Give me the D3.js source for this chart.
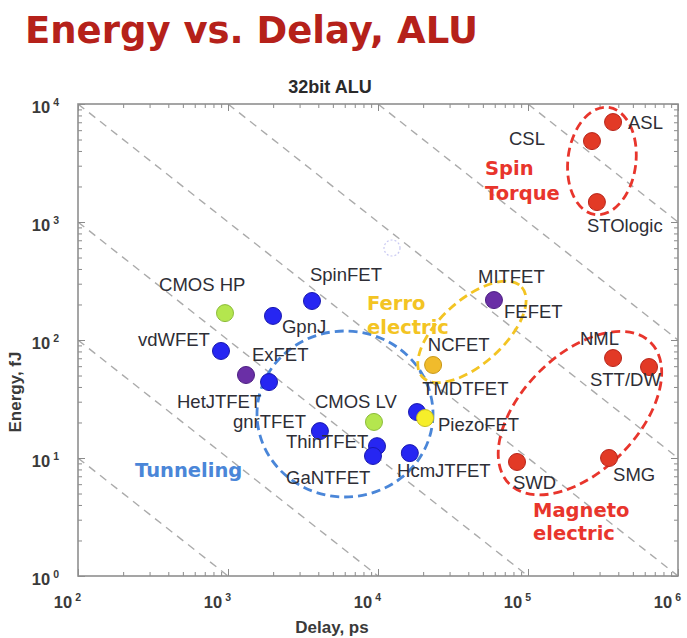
<!DOCTYPE html>
<html>
<head>
<meta charset="utf-8">
<script src="https://cdn.jsdelivr.net/npm/d3@7"></script>
<style>
  html, body { margin: 0; padding: 0; background: #fff; }
  svg { display: block; }
</style>
</head>
<body>
<svg id="chart" width="687" height="638"></svg>
<script>
// ---------------- DATA ----------------
const deviceNames  = ["ASL","CSL","STOlogic","ghost","MITFET/FEFET","NCFET","NML","STT/DW","SWD","SMG",
                      "TMDTFET","PiezoFET","HcmJTFET","CMOS LV","TFET-a","GaNTFET","ThinTFET","gnrTFET/ExFET",
                      "HetJTFET","vdWFET","CMOS HP","GpnJ","SpinFET"];
const deviceDelay  = [3.69e5,2.67e5,2.88e5,1.24e4,5.93e4,2.33e4,3.69e5,6.41e5,8.45e4,3.47e5,
                      1.82e4,2.06e4,1.63e4,9400,9850,9260,4100,1877,
                      1318,898,955,1995,3630];               // ps
const deviceEnergy = [7030,4850,1475,602,218,61.4,70.3,59,9.25,10,
                      24.5,21.8,11.0,20.2,12.6,10.4,16.9,44,
                      50.5,80.7,169,160,214];                  // fJ
const deviceKind   = ["spin","spin","spin","ghost","hetero","ferro","spin","spin","spin","spin",
                      "fet","piezo","fet","cmos","fet","fet","fet","fet",
                      "hetero","fet","cmos","fet","fet"];

// point labels (text anchored at start, located in data units)
const labelText   = ["ASL","CSL","STOlogic","MITFET","FEFET","NCFET","NML","STT/DW","TMDTFET","PiezoFET",
                     "HcmJTFET","SWD","SMG","CMOS LV","ThinTFET","GaNTFET","gnrTFET","HetJTFET","ExFET",
                     "vdWFET","CMOS HP","GpnJ","SpinFET"];
const labelDelay  = [4.64e5,7.47e4,2.47e5,4.64e4,6.92e4,2.15e4,2.22e5,2.59e5,1.97e4,2.51e4,
                     1.34e4,7.94e4,3.69e5,3800,2437,2437,1080,457,1445,
                     251,347,2290,3520];
const labelEnergy = [7030,5050,925,342,173,90.8,102,45.8,38.5,19.4,
                     7.9,6.14,7.18,29.9,13.7,6.78,20.2,29.9,74.6,
                     100,298,129,356];

// device groups (ellipse centres and group captions, data units)
const groupNames        = ["Tunneling","Ferro electric","Spin Torque","Magneto electric"];
const groupCenterDelay  = [6026,4.23e4,3.11e5,2.22e5];
const groupCenterEnergy = [23.6,117,3290,24.0];
const groupCaptionLines = [["Tunneling"],["Ferro","electric"],["Spin","Torque"],["Magneto","electric"]];
const groupCaptionDelay = [240,8450,5.17e4,1.08e5];
const groupCaptionEnergy= [[7.9],[206,129],[2870,1762],[3.62,2.31]];

// axes
const xTickValues = [1e2,1e3,1e4,1e5,1e6];
const yTickValues = [1e0,1e1,1e2,1e3,1e4];
const edProducts  = [1e3,1e4,1e5,1e6,1e7,1e8,1e9];   // constant energy*delay lines

// ---------------- STYLE / LAYOUT ----------------
const kindFill   = {spin:"#e23a26", ghost:"none", hetero:"#6a2fa6", ferro:"#f0bb2c", fet:"#2626f2", cmos:"#b4e64e", piezo:"#f6ee2a"};
const kindStroke = {spin:"#b8251a", ghost:"#c9c9f2", hetero:"#4c1f82", ferro:"#c99818", fet:"#1818b0", cmos:"#8cbc3a", piezo:"#c6be1c"};
const groupColor = ["#4a86d8","#f3c423","#e8352c","#e8352c"];
const groupShape = [[88,83,0],[67,32,-42],[34,54,7],[100,58,-45]]; // rx, ry, rotation (px, deg)

const svg = d3.select("#chart");
const L = 78, R = 678, T = 104, B = 576;

const x = d3.scaleLog().domain([1e2,1e6]).range([L,R]);
const y = d3.scaleLog().domain([1e0,1e4]).range([B,T]);

// Title
svg.append("text")
  .attr("x", 25).attr("y", 43)
  .attr("font-family", "DejaVu Sans, Verdana, sans-serif")
  .attr("font-weight", "bold").attr("font-size", 36.5)
  .attr("fill", "#b5211a")
  .attr("textLength", 453).attr("lengthAdjust", "spacingAndGlyphs")
  .text("Energy vs. Delay, ALU");

svg.append("text")
  .attr("x", 330).attr("y", 93)
  .attr("text-anchor", "middle")
  .attr("font-family", "Liberation Sans, Arial, sans-serif")
  .attr("font-weight", "bold").attr("font-size", 18)
  .attr("fill", "#2a2a2a")
  .text("32bit ALU");

// clip
svg.append("defs").append("clipPath").attr("id","plotclip")
  .append("rect").attr("x",L).attr("y",T).attr("width",R-L).attr("height",B-T);

// constant ED lines
const gLines = svg.append("g").attr("clip-path","url(#plotclip)");
edProducts.forEach(ed => {
  const x0 = Math.max(1e2, ed/1e4), x1 = Math.min(1e6, ed/1);
  gLines.append("line")
    .attr("x1", x(x0)).attr("y1", y(ed/x0))
    .attr("x2", x(x1)).attr("y2", y(ed/x1))
    .attr("stroke", "#ababab").attr("stroke-width", 1.4)
    .attr("stroke-dasharray", "8,6");
});

// axes box and ticks (MATLAB style, inward)
const minorVals = (lo, hi) => { const v=[]; for (let d=lo; d<hi; d++) for (let m=2;m<=9;m++) v.push(m*Math.pow(10,d)); return v; };
const xMinor = minorVals(2,6), yMinor = minorVals(0,4);

function styleAxis(g){
  g.select(".domain").remove();
  g.selectAll(".tick line").attr("stroke","#8a8a8a").attr("stroke-width",1);
}
svg.append("g").attr("transform",`translate(0,${B})`)
  .call(d3.axisBottom(x).tickValues(xTickValues).tickSize(-7).tickFormat("")).call(styleAxis);
svg.append("g").attr("transform",`translate(0,${B})`)
  .call(d3.axisBottom(x).tickValues(xMinor).tickSize(-4).tickFormat("")).call(styleAxis);
svg.append("g").attr("transform",`translate(0,${T})`)
  .call(d3.axisTop(x).tickValues(xTickValues).tickSize(-7).tickFormat("")).call(styleAxis);
svg.append("g").attr("transform",`translate(0,${T})`)
  .call(d3.axisTop(x).tickValues(xMinor).tickSize(-4).tickFormat("")).call(styleAxis);
svg.append("g").attr("transform",`translate(${L},0)`)
  .call(d3.axisLeft(y).tickValues(yTickValues).tickSize(-7).tickFormat("")).call(styleAxis);
svg.append("g").attr("transform",`translate(${L},0)`)
  .call(d3.axisLeft(y).tickValues(yMinor).tickSize(-4).tickFormat("")).call(styleAxis);
svg.append("g").attr("transform",`translate(${R},0)`)
  .call(d3.axisRight(y).tickValues(yTickValues).tickSize(-7).tickFormat("")).call(styleAxis);
svg.append("g").attr("transform",`translate(${R},0)`)
  .call(d3.axisRight(y).tickValues(yMinor).tickSize(-4).tickFormat("")).call(styleAxis);

svg.append("rect").attr("x",L).attr("y",T).attr("width",R-L).attr("height",B-T)
  .attr("fill","none").attr("stroke","#8f8f8f").attr("stroke-width",1.6);

// tick labels "10^n"
const tickFont = "Liberation Sans, Arial, sans-serif";
xTickValues.forEach(v => {
  const t = svg.append("text")
    .attr("x", x(v) + 3).attr("y", 608)
    .attr("text-anchor","end")
    .attr("font-family", tickFont).attr("font-weight","bold")
    .attr("font-size", 16.5).attr("fill","#3a3a3a");
  t.append("tspan").text("10");
  t.append("tspan").attr("dx",3).attr("dy",-7).attr("font-size",10.5).text(Math.round(Math.log10(v)));
});
yTickValues.forEach(v => {
  const t = svg.append("text")
    .attr("x", 59).attr("y", y(v) + 9)
    .attr("text-anchor","end")
    .attr("font-family", tickFont).attr("font-weight","bold")
    .attr("font-size", 16.5).attr("fill","#3a3a3a");
  t.append("tspan").text("10");
  t.append("tspan").attr("dx",3).attr("dy",-7).attr("font-size",10.5).text(Math.round(Math.log10(v)));
});

// axis titles
svg.append("text")
  .attr("x", 332).attr("y", 633).attr("text-anchor","middle")
  .attr("font-family", tickFont).attr("font-weight","bold")
  .attr("font-size", 17).attr("fill","#3a3a3a")
  .text("Delay, ps");
svg.append("text")
  .attr("transform","translate(21,392) rotate(-90)").attr("text-anchor","middle")
  .attr("font-family", tickFont).attr("font-weight","bold")
  .attr("font-size", 17).attr("fill","#3a3a3a")
  .text("Energy, fJ");

// group ellipses
groupNames.forEach((name,i) => {
  const [rx, ry, rot] = groupShape[i];
  const cx = x(groupCenterDelay[i]), cy = y(groupCenterEnergy[i]);
  svg.append("ellipse")
    .attr("cx",0).attr("cy",0).attr("rx",rx).attr("ry",ry)
    .attr("transform",`translate(${cx},${cy}) rotate(${rot})`)
    .attr("fill","none").attr("stroke",groupColor[i]).attr("stroke-width",2.8)
    .attr("stroke-dasharray","9,5");
});

// points
const pts = deviceNames.map((n,i) => ({name:n, d:deviceDelay[i], e:deviceEnergy[i], k:deviceKind[i]}));
svg.append("g").selectAll("circle").data(pts).join("circle")
  .attr("cx", d => x(d.d)).attr("cy", d => y(d.e))
  .attr("r", d => d.k === "ghost" ? 8 : 8.5)
  .attr("fill", d => kindFill[d.k])
  .attr("stroke", d => kindStroke[d.k])
  .attr("stroke-width", d => d.k === "ghost" ? 1.2 : 1)
  .attr("stroke-dasharray", d => d.k === "ghost" ? "2,2" : null);

// point labels
svg.append("g").selectAll("text").data(labelText).join("text")
  .attr("x", (d,i) => x(labelDelay[i]))
  .attr("y", (d,i) => y(labelEnergy[i]))
  .attr("dy", "0.35em")
  .attr("font-family", "Liberation Sans, Arial, sans-serif")
  .attr("font-size", 18.5)
  .attr("fill", "#2e2e36")
  .text(d => d);

// group captions
groupNames.forEach((name,i) => {
  groupCaptionLines[i].forEach((line,j) => {
    svg.append("text")
      .attr("x", x(groupCaptionDelay[i]))
      .attr("y", y(groupCaptionEnergy[i][j]))
      .attr("dy","0.36em")
      .attr("font-family","DejaVu Sans, Verdana, sans-serif")
      .attr("font-weight","bold").attr("font-size",19.5)
      .attr("fill", groupColor[i])
      .text(line);
  });
});
</script>
</body>
</html>
